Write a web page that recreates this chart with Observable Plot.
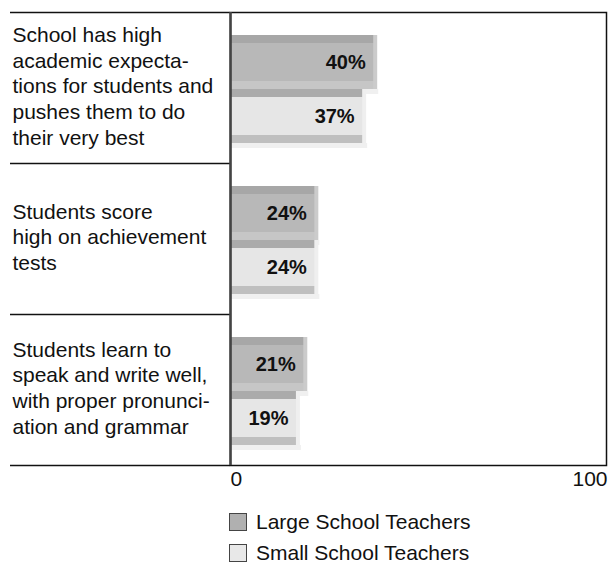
<!DOCTYPE html>
<html>
<head>
<meta charset="utf-8">
<script src="https://cdn.jsdelivr.net/npm/d3@7"></script>
<script src="https://cdn.jsdelivr.net/npm/@observablehq/plot@0.6"></script>
<style>
  body { margin: 0; background: #fff; font-family: "Liberation Sans", Arial, sans-serif; color: #111; }
  #legend { padding-top: 6px; }
  .row { display: flex; align-items: center; height: 31px; margin-left: 229px; font-size: 21px; }
  .sw { width: 16px; height: 16px; border: 1.5px solid #444; margin-right: 9px; }
</style>
</head>
<body>
<div id="chart"></div>
<div id="legend"></div>
<script>
const categories = [
  "School has high\nacademic expecta-\ntions for students and\npushes them to do\ntheir very best",
  "Students score\nhigh on achievement\ntests",
  "Students learn to\nspeak and write well,\nwith proper pronunci-\nation and grammar"
];
const largeValues = [40, 24, 21];
const smallValues = [37, 24, 19];
const seriesNames = ["Large School Teachers", "Small School Teachers"];
const tickValues = [0, 100];

const W = 608, H = 500, mL = 230, mR = 10, mT = 12, mB = 35;
const extraRight = 8;
const bw = (H - mT - mB) / categories.length;
const plotW = W - mL - mR;

const rows = categories.map((c, i) => ({cat: c, large: largeValues[i], small: smallValues[i]}));

const styles = {
  large: {top: 23, h: 54, cTop: "#a7a7a7", cFace: "#b8b8b8", cBot: "#c6c6c6", cRight: "#cbcbcb", swatch: "#b0b0b0"},
  small: {top: 77, h: 54, cTop: "#ababab", cFace: "#e6e6e6", cBot: "#bfbfbf", cRight: "#efefef", swatch: "#e8e8e8"}
};

function band(a, b) { return {insetTop: a, insetBottom: bw - b}; }

function bar3d(key) {
  const s = styles[key];
  const t = s.top, b = s.top + s.h, e = 8;
  return [
    Plot.barX(rows, {x: key, y: "cat", fill: "#f0f0f0", insetRight: -1, ...band(b, b + 5)}),
    Plot.barX(rows, {x: key, y: "cat", fill: s.cRight, ...band(t, b)}),
    Plot.barX(rows, {x: key, y: "cat", fill: s.cTop, insetRight: 4, ...band(t, t + e)}),
    Plot.barX(rows, {x: key, y: "cat", fill: s.cBot, insetRight: 4, ...band(b - e, b)}),
    Plot.barX(rows, {x: key, y: "cat", fill: s.cFace, insetRight: 4, ...band(t + e, b - e)}),
    Plot.text(rows, {x: key, y: "cat", text: d => d[key] + "%", textAnchor: "end", dx: -12,
      dy: (t + b) / 2 - bw / 2, fontSize: 20, fontWeight: "bold", fill: "#111"})
  ];
}

const chart = Plot.plot({
  width: W, height: H,
  marginLeft: mL, marginRight: mR, marginTop: mT, marginBottom: mB,
  style: {fontFamily: "'Liberation Sans', Arial, sans-serif", color: "#111", background: "#fff"},
  x: {domain: [0, 100], axis: null},
  y: {domain: categories, padding: 0, axis: null},
  marks: [
    ...bar3d("large"),
    ...bar3d("small"),
    Plot.text(categories, {y: d => d, text: d => d, frameAnchor: "left", dx: -(mL - 12), dy: -3, textAnchor: "start",
      fontSize: 21, lineHeight: 25.7 / 21, fill: "#111"}),
    Plot.ruleY(categories, {y: d => d, dy: -bw / 2, insetLeft: -(mL - 10), insetRight: plotW, stroke: "#111", strokeWidth: 1.5}),
    Plot.ruleY(categories.slice(-1), {y: d => d, dy: bw / 2, insetLeft: -(mL - 10), insetRight: plotW, stroke: "#111", strokeWidth: 1.5}),
    Plot.frame({stroke: "#111", strokeWidth: 1.5, insetRight: -extraRight}),
    Plot.ruleX([0], {stroke: "#444", strokeWidth: 2.5}),
    Plot.text(tickValues.slice(0, 1), {x: d => d, text: d => String(d), frameAnchor: "bottom", lineAnchor: "top", dy: 6,
      textAnchor: "start", fontSize: 21, fill: "#111"}),
    Plot.text(tickValues.slice(1), {x: d => d, text: d => String(d), frameAnchor: "bottom", lineAnchor: "top", dy: 6,
      textAnchor: "end", dx: extraRight + 1, fontSize: 21, fill: "#111"})
  ]
});
document.getElementById("chart").appendChild(chart);

const legend = document.getElementById("legend");
const keys = ["large", "small"];
seriesNames.forEach((name, i) => {
  const row = document.createElement("div");
  row.className = "row";
  const sw = document.createElement("div");
  sw.className = "sw";
  sw.style.background = styles[keys[i]].swatch;
  const label = document.createElement("span");
  label.textContent = name;
  row.appendChild(sw);
  row.appendChild(label);
  legend.appendChild(row);
});
</script>
</body>
</html>
